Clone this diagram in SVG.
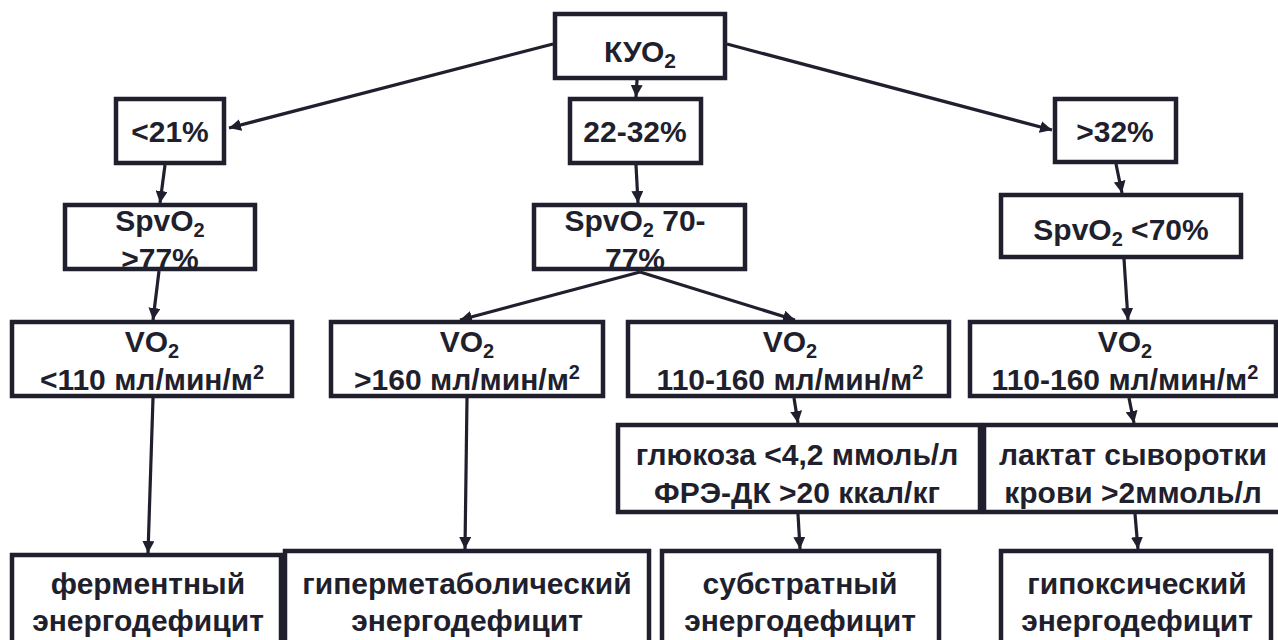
<svg xmlns="http://www.w3.org/2000/svg" width="1278" height="640" viewBox="0 0 1278 640">
<style>
.box{fill:#fff;stroke:#1f1f2d;stroke-width:4.5}
.t{font-family:"Liberation Sans",Arial,sans-serif;font-weight:bold;font-size:30px;fill:#1f1f2d;text-anchor:middle}
.c line{stroke:#1f1f2d;stroke-width:3.2;marker-end:url(#ah)}
</style>
<defs>
<marker id="ah" markerUnits="userSpaceOnUse" markerWidth="14" markerHeight="12" refX="12" refY="6" orient="auto">
<path d="M0,0 L12,6 L0,12 Z" fill="#1f1f2d"/>
</marker>
</defs>
<rect width="1278" height="640" fill="#fff"/>
<g class="c" id="connectors">
<line x1="553" y1="44" x2="229" y2="128"/>
<line x1="637" y1="80" x2="636" y2="97"/>
<line x1="727" y1="44" x2="1052" y2="130"/>
<line x1="165" y1="165" x2="160" y2="203"/>
<line x1="636" y1="165" x2="638" y2="203"/>
<line x1="1116" y1="164" x2="1122" y2="193"/>
<line x1="159" y1="271" x2="153" y2="320"/>
<line x1="640" y1="272" x2="460" y2="320"/>
<line x1="640" y1="272" x2="795" y2="320"/>
<line x1="1124" y1="259" x2="1128" y2="320"/>
<line x1="153" y1="398" x2="148" y2="553"/>
<line x1="467" y1="398" x2="465" y2="549"/>
<line x1="794" y1="398" x2="798" y2="423"/>
<line x1="1129" y1="398" x2="1134" y2="423"/>
<line x1="798" y1="514" x2="800" y2="549"/>
<line x1="1135" y1="514" x2="1138" y2="549"/>
</g>
<g id="kuo"><rect class="box" x="555" y="14" width="170" height="64"/><text class="t" x="640" y="62" font-size="31">КУО<tspan font-size="21" dy="6">2</tspan></text></g>
<g id="lt21"><rect class="box" x="116" y="99" width="108" height="64"/><text class="t" x="170" y="142">&lt;21%</text></g>
<g id="r22"><rect class="box" x="570" y="99" width="131" height="64"/><text class="t" x="635" y="142">22-32%</text></g>
<g id="gt32"><rect class="box" x="1055" y="99" width="121" height="63"/><text class="t" x="1115" y="142">&gt;32%</text></g>
<g id="spv1"><rect class="box" x="65" y="205" width="190" height="64"/><text class="t" x="160" y="231">SpvO<tspan font-size="20" dy="6">2</tspan></text><text class="t" x="160" y="269">&gt;77%</text></g>
<g id="spv2"><rect class="box" x="534" y="205" width="211" height="64"/><text class="t" x="635" y="231">SpvO<tspan font-size="20" dy="6">2</tspan><tspan dy="-6"> 70-</tspan></text><text class="t" x="635" y="269">77%</text></g>
<g id="spv3"><rect class="box" x="1001" y="195" width="240" height="62"/><text class="t" x="1121" y="240">SpvO<tspan font-size="20" dy="6">2</tspan><tspan dy="-6"> &lt;70%</tspan></text></g>
<g id="vo1"><rect class="box" x="12" y="322" width="280" height="74"/><text class="t" x="152" y="352">VO<tspan font-size="20" dy="6">2</tspan></text><text class="t" x="152" y="390">&lt;110 мл/мин/м<tspan font-size="20" dy="-11">2</tspan></text></g>
<g id="vo2"><rect class="box" x="331" y="322" width="272" height="74"/><text class="t" x="467" y="352">VO<tspan font-size="20" dy="6">2</tspan></text><text class="t" x="467" y="390">&gt;160 мл/мин/м<tspan font-size="20" dy="-11">2</tspan></text></g>
<g id="vo3"><rect class="box" x="628" y="322" width="321" height="74"/><text class="t" x="790" y="352">VO<tspan font-size="20" dy="6">2</tspan></text><text class="t" x="790" y="390">110-160 мл/мин/м<tspan font-size="20" dy="-11">2</tspan></text></g>
<g id="vo4"><rect class="box" x="970" y="322" width="306" height="74"/><text class="t" x="1125" y="352">VO<tspan font-size="20" dy="6">2</tspan></text><text class="t" x="1125" y="390">110-160 мл/мин/м<tspan font-size="20" dy="-11">2</tspan></text></g>
<g id="glu"><rect class="box" x="618" y="425" width="362" height="87"/><text class="t" x="797" y="465">глюкоза &lt;4,2 ммоль/л</text><text class="t" x="797" y="503">ФРЭ-ДК &gt;20 ккал/кг</text></g>
<g id="lac"><rect class="box" x="984" y="425" width="300" height="87"/><text class="t" x="1133" y="465">лактат сыворотки</text><text class="t" x="1133" y="503">крови &gt;2ммоль/л</text></g>
<g id="f1"><rect class="box" x="12" y="555" width="269" height="100"/><text class="t" x="148" y="594">ферментный</text><text class="t" x="148" y="631">энергодефицит</text></g>
<g id="f2"><rect class="box" x="285" y="551" width="364" height="100"/><text class="t" x="467" y="594">гиперметаболический</text><text class="t" x="467" y="631">энергодефицит</text></g>
<g id="f3"><rect class="box" x="662" y="551" width="277" height="100"/><text class="t" x="800" y="594">субстратный</text><text class="t" x="800" y="631">энергодефицит</text></g>
<g id="f4"><rect class="box" x="1001" y="551" width="270" height="100"/><text class="t" x="1137" y="594">гипоксический</text><text class="t" x="1137" y="631">энергодефицит</text></g>
</svg>
